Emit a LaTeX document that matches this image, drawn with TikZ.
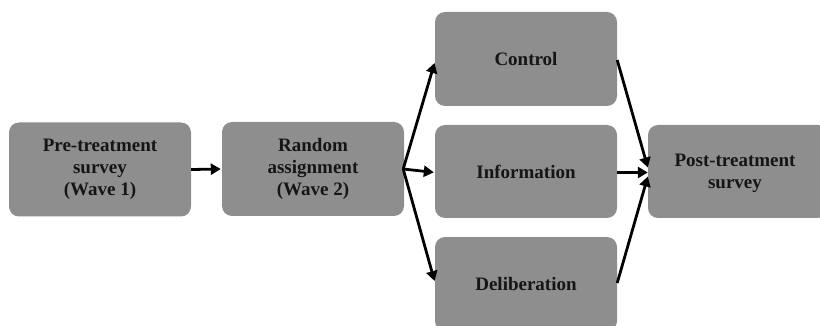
\documentclass[tikz,border=0pt]{standalone}
\usepackage{fontspec}
\setmainfont{Liberation Serif}
\usetikzlibrary{arrows.meta}
\definecolor{boxgrey}{HTML}{8E8E8E}
\definecolor{txt}{HTML}{151515}
\begin{document}
\begin{tikzpicture}[x=1pt,y=-1pt,
  lbl/.style={font=\fontsize{19}{22}\selectfont\bfseries,text=txt,align=center,inner sep=0pt},
  stagebox/.style={lbl,draw=none,fill=boxgrey,rounded corners=10pt,minimum width=182pt,minimum height=94pt},
  flow/.style={line width=2.8pt,-{Triangle[length=10pt,width=11pt]},shorten >=1pt}]
\useasboundingbox (0,0) rectangle (820,326);
\node[stagebox] (pre) at (100,169.5) {Pre-treatment\\survey\\(Wave 1)};
\node[stagebox] (rand) at (313,169) {Random\\assignment\\(Wave 2)};
\node[stagebox] (ctrl) at (526,59) {Control};
\node[stagebox,minimum height=93pt] (info) at (526,171.5) {Information};
\node[stagebox,minimum height=94pt] (delib) at (526,284) {};
\node[lbl] (delibtxt) at (526,284) {Deliberation};
\node[stagebox,minimum width=180pt,minimum height=93pt] (post) at (738,171.5) {};
\node[lbl] (posttxt) at (735,173) {Post-treatment\\survey};
\draw[flow] (pre.east) -- (rand.west);
\draw[flow] ([xshift=-1pt]rand.east) -- ([yshift=-3pt]ctrl.west);
\draw[flow] ([xshift=-1pt]rand.east) -- ([yshift=-1pt]info.west);
\draw[flow] ([xshift=-1pt]rand.east) -- ([yshift=2pt]delib.west);
\draw[flow,shorten >=0pt] ([yshift=-1pt]ctrl.east) -- ([yshift=4pt]post.west);
\draw[flow,shorten >=0pt] ([yshift=-1pt]info.east) -- ([yshift=-1pt]post.west);
\draw[flow,shorten >=0pt] ([yshift=1pt]delib.east) -- ([yshift=-5pt]post.west);
\end{tikzpicture}
\end{document}
